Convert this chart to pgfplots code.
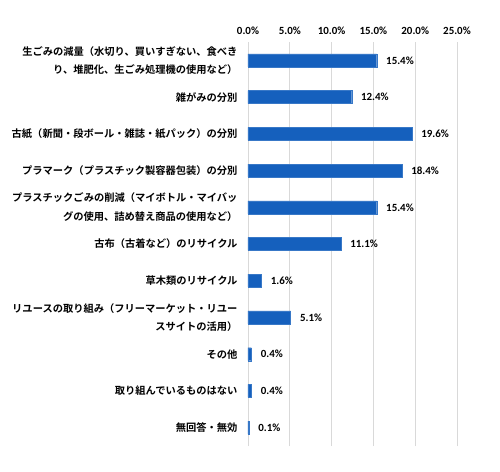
\documentclass[border=0pt]{standalone}
\usepackage{pgfplots}
\pgfplotsset{compat=1.18}
\usepackage{fontspec}
\setmainfont{Carlito}
\newfontfamily\cjk{Noto Sans CJK JP}[BoldFont={* Bold}]
\usetikzlibrary{calc}
\definecolor{barblue}{RGB}{21,96,189}
\definecolor{gridgray}{RGB}{217,217,217}
\begin{document}
\begin{tikzpicture}
\begin{axis}[
  name=ax,
  scale only axis,
  width=209bp, height=404bp,
  xbar, bar width=13bp,
  xmin=0, xmax=25,
  ymin=-0.5, ymax=10.5,
  xtick={0,5,10,15,20,25},
  xticklabel pos=upper,
  xticklabel={\pgfmathprintnumber[fixed,fixed zerofill,precision=1,assume math mode=true]{\tick}\%},
  xticklabel style={font=\bfseries\fontsize{11}{13}\selectfont, yshift=4bp},
  xmajorgrids,
  grid style={gridgray, line width=0.8pt},
  axis line style={draw=none},
  major tick length=0pt,
  ytick={0,...,10},
  yticklabels={
    {無回答・無効},
    {取り組んでいるものはない},
    {その他},
    {リユースの取り組み（フリーマーケット・リユー\\スサイトの活用）},
    {草木類のリサイクル},
    {古布（古着など）のリサイクル},
    {プラスチックごみの削減（マイボトル・マイバッ\\グの使用、詰め替え商品の使用など）},
    {プラマーク（プラスチック製容器包装）の分別},
    {古紙（新聞・段ボール・雑誌・紙パック）の分別},
    {雑がみの分別},
    {生ごみの減量（水切り、買いすぎない、食べき\\り、堆肥化、生ごみ処理機の使用など）}
  },
  yticklabel style={align=right, font=\cjk\bfseries\fontsize{10.3}{18.5}\selectfont, xshift=-7bp},
  nodes near coords={\pgfmathprintnumber[fixed,fixed zerofill,precision=1,assume math mode=true]{\pgfplotspointmeta}\%},
  nodes near coords style={font=\bfseries\fontsize{11}{13}\selectfont, anchor=west, xshift=6bp, text=black},
]
\addplot[fill=barblue, draw=barblue!85!white, line width=0.3pt] coordinates {
  (0.1,0) (0.4,1) (0.4,2) (5.1,3) (1.6,4) (11.1,5) (15.4,6) (18.4,7) (19.6,8) (12.4,9) (15.4,10)
};
\end{axis}
\path ($(ax.south west)+(-248bp,-26bp)$) rectangle ($(ax.north east)+(43bp,42bp)$);
\end{tikzpicture}
\end{document}
